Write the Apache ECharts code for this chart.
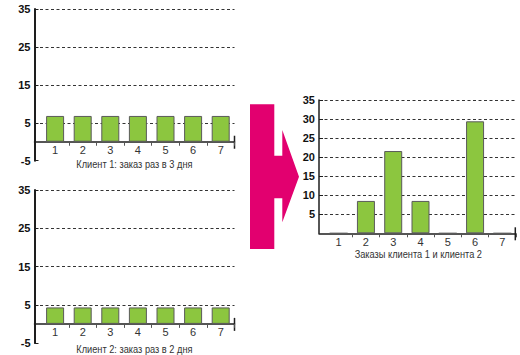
<!DOCTYPE html>
<html><head><meta charset="utf-8">
<script src="https://cdn.jsdelivr.net/npm/echarts@6/dist/echarts.min.js"></script>
<style>html,body{margin:0;padding:0;background:#fff}#c{width:520px;height:355px}</style>
</head><body><div id="c"></div>
<script>
const days = ['1', '2', '3', '4', '5', '6', '7'];
const client1 = [6.8, 6.8, 6.8, 6.8, 6.8, 6.8, 6.8];
const client2 = [4.3, 4.3, 4.3, 4.3, 4.3, 4.3, 4.3];
const combined = [0, 8.5, 21.6, 8.5, 0, 29.4, 0];
const leftYTicks = [-5, 5, 15, 25, 35];
const rightYTicks = [0, 5, 10, 15, 20, 25, 30, 35];
const titles = ['Клиент 1: заказ раз в 3 дня', 'Клиент 2: заказ раз в 2 дня', 'Заказы клиента 1 и клиента 2'];

const FONT = "'Liberation Sans', Arial, sans-serif";
const GREEN = '#8cc63f';
const DARK = '#1e1e1e';

const panels = [
  {frame: {left: 34.5, top: 9, width: 200, height: 151.7}, cat: {left: 41.3, width: 193.2}, ticks: leftYTicks, data: client1, title: titles[0], tx: 134.4, ty: 164, axisW: 2},
  {frame: {left: 34.5, top: 190, width: 200, height: 153}, cat: {left: 41.3, width: 193.2}, ticks: leftYTicks, data: client2, title: titles[1], tx: 134.4, ty: 349.3, axisW: 2},
  {frame: {left: 319, top: 100, width: 196.3, height: 133.3}, cat: {left: 325, width: 191}, ticks: rightYTicks, data: combined, title: titles[2], tx: 418.3, ty: 254, axisW: 1.5}
];

const grid = [], xAxis = [], yAxis = [], series = [];
panels.forEach((p, i) => {
  const yMin = p.ticks[0], yMax = p.ticks[p.ticks.length - 1], step = p.ticks[1] - p.ticks[0];
  const catH = p.frame.height * (yMax - Math.max(0, yMin)) / (yMax - yMin);
  grid.push({left: p.frame.left, top: p.frame.top, width: p.frame.width, height: p.frame.height, containLabel: false, outerBoundsMode: 'none'});
  grid.push({left: p.cat.left, top: p.frame.top, width: p.cat.width, height: catH, containLabel: false, outerBoundsMode: 'none'});
  const gF = 2 * i, gC = 2 * i + 1;
  xAxis.push({gridIndex: gF, type: 'value', min: 0, max: 1, axisLabel: {show: false}, axisTick: {show: false}, splitLine: {show: false},
    axisLine: {show: true, onZero: true, lineStyle: {color: DARK, width: 1.5}}});
  xAxis.push({gridIndex: gC, type: 'category', data: days, boundaryGap: true, position: 'bottom',
    axisLine: {show: true, onZero: false, lineStyle: {color: DARK, opacity: 0}},
    axisTick: {show: true, length: 4, interval: (idx) => idx > 0, lineStyle: {color: '#555', width: 1}},
    axisLabel: {color: '#333', fontSize: 11, fontFamily: FONT, margin: 3}});
  yAxis.push({gridIndex: gF, type: 'value', min: yMin, max: yMax, interval: step,
    axisLine: {show: true, lineStyle: {color: DARK, width: p.axisW}},
    axisTick: {show: true, inside: true, length: 4, lineStyle: {color: DARK, width: 1}},
    axisLabel: {color: '#111', fontSize: 11, fontWeight: 'bold', fontFamily: FONT, margin: 4, showMinLabel: yMin !== 0},
    splitLine: {show: true, showMinLine: false, lineStyle: {color: '#333', width: 1, type: [3, 2.5]}}});
  yAxis.push({gridIndex: gC, type: 'value', min: Math.max(0, yMin), max: yMax,
    axisLine: {show: false}, axisTick: {show: false}, axisLabel: {show: false}, splitLine: {show: false}});
  series.push({type: 'bar', xAxisIndex: gC, yAxisIndex: gC, data: p.data, barWidth: 18,
    itemStyle: {color: GREEN, borderColor: '#5a5a5a', borderWidth: 1}, silent: true});
});

const chart = echarts.init(document.getElementById('c'), null, {renderer: 'svg', width: 520, height: 355});
chart.setOption({animation: false, backgroundColor: '#fff', grid, xAxis, yAxis, series});

const graphics = [];
panels.forEach((p, i) => {
  const pt = chart.convertToPixel({xAxisIndex: 2 * i, yAxisIndex: 2 * i}, [1, 0]);
  graphics.push({type: 'line', silent: true, shape: {x1: pt[0], y1: pt[1] - 6, x2: pt[0], y2: pt[1] + 7}, style: {stroke: DARK, lineWidth: 1.5}});
  graphics.push({type: 'text', silent: true, x: p.tx, y: p.ty, scaleX: 0.84,
    style: {text: p.title, fill: '#333', font: "11px " + FONT, textAlign: 'center', textVerticalAlign: 'middle'}});
});
graphics.push({type: 'polygon', silent: true, shape: {points: [
  [250, 104.3], [274.3, 104.3], [274.3, 155.7], [282.3, 155.7], [282.3, 130], [299, 176.7],
  [282.3, 222.3], [282.3, 198.3], [274.3, 198.3], [274.3, 249], [250, 249]]},
  style: {fill: '#e2006f'}});
chart.setOption({graphic: graphics});
</script></body></html>
